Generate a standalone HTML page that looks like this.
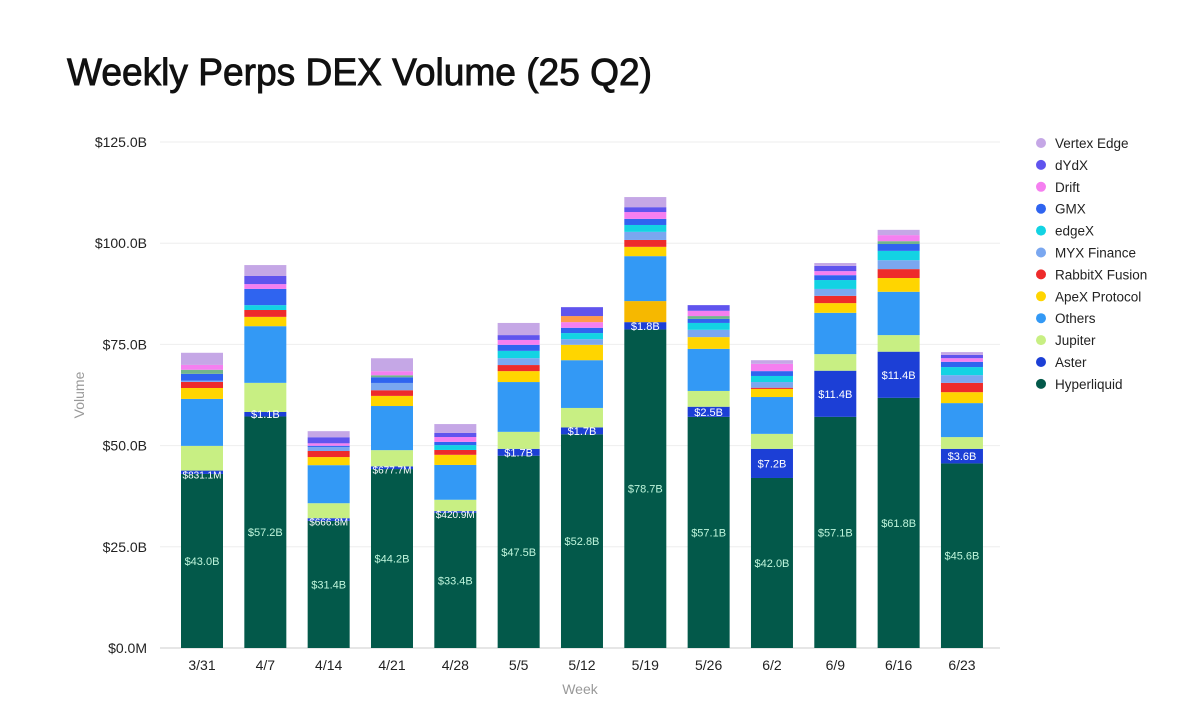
<!DOCTYPE html>
<html><head><meta charset="utf-8"><style>
body{margin:0;background:#fff;width:1200px;height:717px;overflow:hidden;font-family:"Liberation Sans",sans-serif;}
svg{display:block}
</style></head><body>
<svg id="chart" width="1200" height="717">
<text x="67" y="85" font-size="38" font-weight="normal" fill="#111" stroke="#111" stroke-width="0.9" textLength="585" lengthAdjust="spacingAndGlyphs">Weekly Perps DEX Volume (25 Q2)</text>
<g id="grid"></g><g id="bars"></g><g id="labels"></g><g id="axes"></g><g id="legend"></g>
<text x="580" y="694" font-size="14" fill="#999" text-anchor="middle">Week</text>
<text transform="translate(84,395) rotate(-90)" font-size="14" fill="#999" text-anchor="middle">Volume</text>
</svg>
<script>
const weeks=["3/31","4/7","4/14","4/21","4/28","5/5","5/12","5/19","5/26","6/2","6/9","6/16","6/23"];
const hyperliquid=[43.0,57.2,31.4,44.2,33.4,47.5,52.8,78.7,57.1,42.0,57.1,61.8,45.6];
const aster=[0.8311,1.1,0.6668,0.6777,0.4209,1.7,1.7,1.8,2.5,7.2,11.4,11.4,3.6];
const jupiter=[6.1,7.2,3.7,4.0,2.8,4.2,4.8,0,3.9,3.7,4.1,4.1,2.9];
const gold=[0,0,0,0,0,0,0,5.2,0,0,0,0,0];
const others=[11.6,14.0,9.4,10.9,8.6,12.3,11.8,11.1,10.4,9.1,10.2,10.7,8.4];
const apex=[2.7,2.3,2.0,2.5,2.5,2.7,3.8,2.3,2.9,2.0,2.4,3.4,2.7];
const rabbitx=[1.5,1.7,1.5,1.4,1.2,1.5,0,1.7,0,0.3,1.8,2.2,2.3];
const myx=[0.3,0,1.0,1.8,0,1.7,1.4,2.0,1.8,1.4,1.7,2.2,1.9];
const edgex=[0,1.2,0,0,1.2,1.8,1.5,1.7,1.7,1.5,2.2,2.3,2.0];
const gmx=[1.7,4.0,0.3,1.4,0.8,1.5,1.3,1.5,1.0,1.2,1.2,1.7,1.3];
const green=[1.0,0,0,0.5,0,0,0,0,0.7,0,0,0.7,0];
const drift=[1.2,1.2,0.6,1.0,1.2,1.2,1.4,1.7,1.3,1.8,1.0,1.5,0.9];
const orange=[0,0,0,0,0,0,1.5,0,0,0,0,0,0];
const dydx=[0,2.0,1.5,0,1.0,1.2,2.2,1.2,1.4,0,1.3,0,0.8];
const vertex=[3.0,2.7,1.5,3.2,2.2,3.0,0,2.5,0,0.9,0.7,1.3,0.7];
const yTicks=[0,25,50,75,100,125];
const yTickLabels=["$0.0M","$25.0B","$50.0B","$75.0B","$100.0B","$125.0B"];
const hlLabels=["$43.0B","$57.2B","$31.4B","$44.2B","$33.4B","$47.5B","$52.8B","$78.7B","$57.1B","$42.0B","$57.1B","$61.8B","$45.6B"];
const asterLabels=["$831.1M","$1.1B","$666.8M","$677.7M","$420.9M","$1.7B","$1.7B","$1.8B","$2.5B","$7.2B","$11.4B","$11.4B","$3.6B"];

const series=[
 ["hyperliquid",hyperliquid,"#03594a"],["aster",aster,"#1c3fd6"],["jupiter",jupiter,"#c8ef83"],["gold",gold,"#f6b800"],
 ["others",others,"#3399f5"],["apex",apex,"#ffd500"],["rabbitx",rabbitx,"#ee2b2b"],["myx",myx,"#7aa7f0"],
 ["edgex",edgex,"#13d3e3"],["gmx",gmx,"#2f64f0"],["green",green,"#72b58c"],["drift",drift,"#f57ff0"],
 ["orange",orange,"#ff9a4a"],["dydx",dydx,"#6054ee"],["vertex",vertex,"#c5a7e6"]];
const legend=[["Vertex Edge","#c5a7e6"],["dYdX","#6054ee"],["Drift","#f57ff0"],["GMX","#2f64f0"],["edgeX","#13d3e3"],["MYX Finance","#7aa7f0"],["RabbitX Fusion","#ee2b2b"],["ApeX Protocol","#ffd500"],["Others","#3399f5"],["Jupiter","#c8ef83"],["Aster","#1c3fd6"],["Hyperliquid","#03594a"]];

const NS="http://www.w3.org/2000/svg";
const y0=648,y1=142,xL=160,xR=1000;
const yS=v=>y0-(v/125)*(y0-y1);
const step=63.33,x0=202,bw=42;
const xS=i=>x0+i*step;
function mk(t,a,p){const e=document.createElementNS(NS,t);for(const k in a)e.setAttribute(k,a[k]);p.appendChild(e);return e;}
const grid=document.getElementById('grid'),axes=document.getElementById('axes');
yTicks.forEach((t,i)=>{
 const l=mk('line',{x1:xL,x2:xR,y1:yS(t),y2:yS(t),stroke:i==0?'#ccc':'#eee','stroke-width':1},grid);
 
 
 const tx=mk('text',{x:147,y:yS(t)+5,'font-size':14,fill:'#222','text-anchor':'end'},axes);
 tx.textContent=yTickLabels[i];
 
 
});
weeks.forEach((w,i)=>{
 const tx=mk('text',{x:xS(i),y:670,'font-size':14,fill:'#222','text-anchor':'middle'},axes);
 tx.textContent=w;
 
 
});
const bars=document.getElementById('bars'),labels=document.getElementById('labels');
weeks.forEach((w,i)=>{
 let acc=0;
 series.forEach(([n,arr,c])=>{
  const v=arr[i];if(!v)return;
  const r=mk('rect',{x:xS(i)-bw/2,y:yS(acc+v),width:bw,height:yS(acc)-yS(acc+v),fill:c},bars);
  
  
  acc+=v;
 });
 const t1=mk('text',{x:xS(i),y:yS(hyperliquid[i]/2)+4,'font-size':11,fill:'#bff5dc','text-anchor':'middle'},labels);
 t1.textContent=hlLabels[i];
 
 
 const small=aster[i]<1;
 const t2=mk('text',{x:xS(i),y:yS(hyperliquid[i]+aster[i]/2)+(small?6:4),'font-size':small?10:11,fill:'#fff','text-anchor':'middle'},labels);
 t2.textContent=asterLabels[i];
 
 
});
const lg=document.getElementById('legend');
legend.forEach(([n,c],i)=>{
 const y=143+i*21.9;
 const g=mk('g',{},lg);
 
 
 mk('circle',{cx:1041,cy:y,r:5,fill:c},g);
 const t=mk('text',{x:1055,y:y+5,'font-size':13.5,fill:'#222'},g);
 t.textContent=n;
});
</script>
</body></html>
